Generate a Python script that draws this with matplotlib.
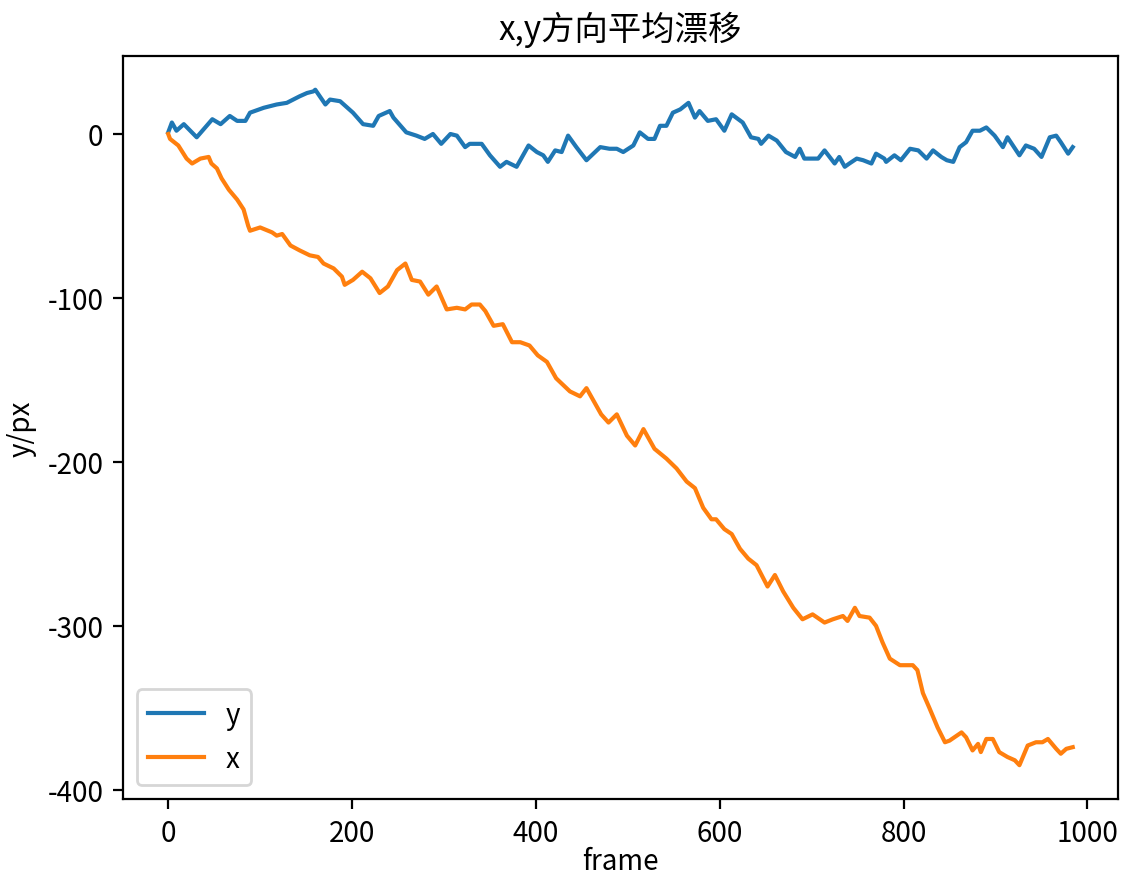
import matplotlib
matplotlib.use("Agg")
import matplotlib.pyplot as plt

# 字体：黑体风格的中文标题
plt.rcParams["font.family"] = ["Noto Sans CJK SC", "DejaVu Sans"]
plt.rcParams["axes.unicode_minus"] = False

# -------------------------
# 数据
# -------------------------
frame_y = [0, 4, 9, 17, 31, 48, 57, 67, 75, 84, 89, 104, 118, 129, 143, 151, 158,
           160, 171, 176, 187, 201, 212, 223, 229, 241, 245, 259, 270, 279, 288,
           297, 307, 314, 323, 328, 341, 350, 361, 368, 379, 392, 401, 408, 413,
           421, 428, 435, 444, 455, 470, 480, 488, 495, 506, 513, 522, 529, 535,
           542, 549, 557, 566, 573, 578, 587, 596, 605, 613, 625, 634, 642, 645,
           653, 662, 672, 682, 687, 692, 701, 707, 714, 725, 730, 736, 741, 749,
           756, 765, 770, 779, 781, 790, 797, 807, 816, 825, 832, 841, 847, 854,
           861, 868, 875, 883, 890, 899, 908, 913, 926, 933, 942, 950, 959, 966,
           971, 979, 984]
drift_y = [1, 7, 2, 6, -2, 9, 6, 11, 8, 8, 13, 16, 18, 19, 23, 25, 26,
           27, 18, 21, 20, 13, 6, 5, 11, 14, 10, 1, -1, -3, 0,
           -6, 0, -1, -8, -6, -6, -13, -20, -17, -20, -7, -11, -13, -17,
           -10, -11, -1, -8, -16, -8, -9, -9, -11, -7, 1, -3, -3, 5,
           5, 13, 15, 19, 10, 14, 8, 9, 2, 12, 7, -2, -3, -6,
           -1, -4, -11, -14, -9, -15, -15, -15, -10, -18, -14, -20, -18, -15,
           -16, -18, -12, -15, -17, -13, -16, -9, -10, -15, -10, -14, -16, -17,
           -8, -5, 2, 2, 4, -1, -8, -2, -13, -7, -9, -14, -2, -1,
           -5, -12, -8]

frame_x = [0, 2, 11, 20, 26, 35, 44, 47, 53, 58, 66, 75, 82, 87, 89, 100, 113,
           118, 124, 133, 143, 154, 163, 169, 180, 189, 192, 201, 211, 220, 230,
           239, 249, 258, 265, 274, 283, 292, 303, 314, 323, 330, 339, 345, 354,
           364, 374, 383, 393, 402, 412, 422, 437, 448, 455, 462, 471, 479, 488,
           499, 508, 517, 529, 542, 553, 564, 573, 582, 591, 596, 605, 613, 622,
           631, 640, 652, 660, 669, 680, 690, 701, 714, 723, 734, 739, 747, 752,
           763, 770, 777, 785, 796, 810, 815, 821, 828, 837, 845, 850, 863, 868,
           875, 881, 884, 890, 897, 904, 913, 921, 926, 935, 944, 951, 957, 966,
           971, 977, 984]
drift_x = [0, -3, -7, -15, -18, -15, -14, -18, -21, -27, -34, -40, -46, -56, -59, -57, -60,
           -62, -61, -68, -71, -74, -75, -79, -82, -87, -92, -89, -84, -88, -97,
           -93, -83, -79, -89, -90, -98, -93, -107, -106, -107, -104, -104, -108, -117,
           -116, -127, -127, -129, -135, -139, -149, -157, -160, -155, -162, -171, -176, -171,
           -184, -190, -180, -192, -198, -204, -212, -216, -228, -235, -235, -241, -244, -253,
           -259, -263, -276, -269, -279, -289, -296, -293, -298, -296, -294, -297, -289, -294,
           -295, -300, -310, -320, -324, -324, -327, -341, -350, -362, -371, -370, -365, -368,
           -376, -372, -377, -369, -369, -377, -380, -382, -385, -373, -371, -371, -369, -375,
           -378, -375, -374]

# -------------------------
# 绘图
# -------------------------
fig = plt.figure(figsize=(5.605, 4.395), dpi=200)
ax = fig.add_axes([0.1097, 0.0899, 0.8876, 0.8453])

ax.plot(frame_y, drift_y, color="tab:blue", label="y")
ax.plot(frame_x, drift_x, color="tab:orange", label="x")

ax.set_title("x,y方向平均漂移")
ax.set_xlabel("frame", labelpad=-1)
ax.set_ylabel("y/px")
ax.legend(loc="lower left")

fig.savefig("out.png", dpi=200)
